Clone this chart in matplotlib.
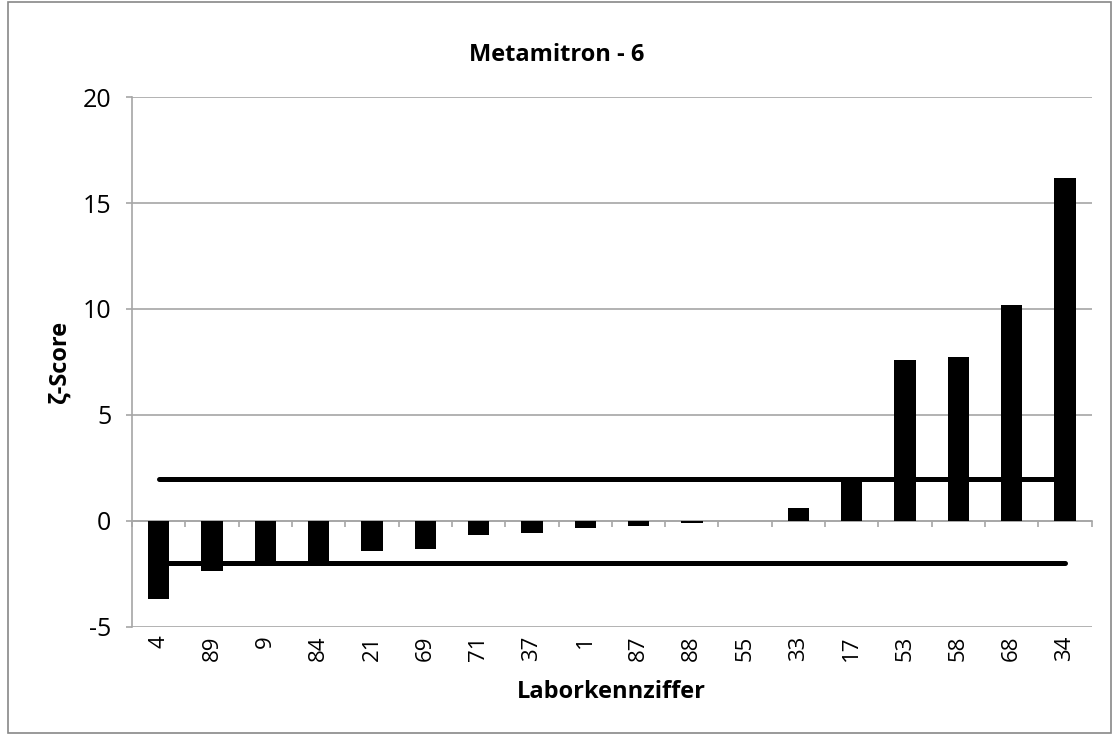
import numpy as np
import matplotlib
matplotlib.use("Agg")
import matplotlib.pyplot as plt
from matplotlib.patches import Rectangle

# Laborkennziffer (x categories) and zeta scores
labs = ["4", "89", "9", "84", "21", "69", "71", "37", "1",
        "87", "88", "55", "33", "17", "53", "58", "68", "34"]
zeta = [-3.69, -2.38, -2.14, -1.95, -1.43, -1.34, -0.68, -0.58, -0.35,
        -0.25, -0.08, 0.0, 0.63, 2.0, 7.6, 7.72, 10.2, 16.18]
limit_upper = 2.0
limit_lower = -2.0

plt.rcParams["font.family"] = ["Open Sans", "DejaVu Sans"]
plt.rcParams["axes.unicode_minus"] = False

fig = plt.figure(figsize=(11.14, 7.35), dpi=100)
ax = fig.add_axes([0.1185, 0.147, 0.8615, 0.721])

x = np.arange(len(labs))
ax.bar(x, zeta, width=0.4, color="black", zorder=3)

# +/-2 limits drawn from first to last lab
ax.plot(x, [limit_upper] * len(x), color="black", lw=3.6,
        solid_capstyle="round", zorder=4)
ax.plot(x, [limit_lower] * len(x), color="black", lw=3.6,
        solid_capstyle="round", zorder=4)

ax.set_xlim(-0.5, len(labs) - 0.5)
ax.set_ylim(-5, 20)
ax.set_yticks([-5, 0, 5, 10, 15, 20])
ax.yaxis.grid(True, color="#a6a6a6", lw=1.2)
ax.set_axisbelow(True)

for side in ["top", "right", "bottom"]:
    ax.spines[side].set_visible(False)
ax.spines["left"].set_color("#a6a6a6")
ax.spines["left"].set_linewidth(1.2)
ax.tick_params(axis="y", length=4.5, color="#a6a6a6", width=1.2,
               labelsize=18, pad=10.5)

ax.set_xticks(x)
ax.set_xticklabels(labs, rotation=90, fontsize=16)
ax.tick_params(axis="x", length=0, pad=6)

# category axis crossing at zero, ticks between categories
frac0 = (0 - (-5)) / 25
sec = ax.secondary_xaxis(frac0)
sec.set_xticks(np.arange(-0.5, len(labs)), labels=[])
sec.tick_params(axis="x", length=4.5, color="#a6a6a6", width=1.2)
sec.spines["bottom"].set_color("#a6a6a6")
sec.spines["bottom"].set_linewidth(1.2)

fig.text(0.5, 1 - 55 / 735, "Metamitron - 6", fontsize=17, fontweight="bold",
         ha="center", va="center")
ax.set_ylabel("ζ-Score", fontsize=17, fontweight="bold", labelpad=8)
ax.set_xlabel("Laborkennziffer", fontsize=17, fontweight="bold", labelpad=14)

fig.patches.append(Rectangle((0.007, 0.003), 0.99, 0.994, transform=fig.transFigure,
                             fill=False, edgecolor="#888888", lw=1.2))

fig.savefig("out.png", dpi=100)
